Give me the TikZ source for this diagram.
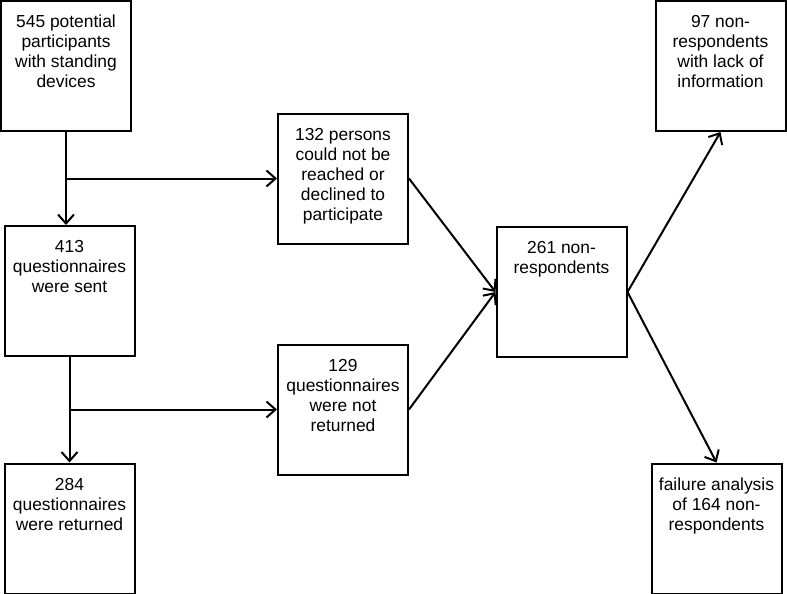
\documentclass[tikz,border=0pt]{standalone}
\usepackage{fontspec}
\setmainfont{Liberation Sans}
\usetikzlibrary{arrows.meta}
\usetikzlibrary{positioning}

\newcommand{\boxtext}[1]{\parbox[t][105pt][t]{124pt}{\centering\strut #1}}

\begin{document}
\begin{tikzpicture}[x=1pt, y=-1pt,
    stepbox/.style={draw, line width=2pt, rectangle, inner xsep=3pt, inner ysep=12.5pt,
        minimum width=130pt, minimum height=130pt,
        font=\fontsize{17.4pt}{20pt}\selectfont},
    flow/.style={line width=2pt, -{Straight Barb[length=9pt, width=16pt]}}]
    \useasboundingbox (0,0) rectangle (787,594);

    \node[stepbox] (pot) at (66,66) {\boxtext{545 potential\\participants\\with standing\\devices}};
    \node[stepbox] (sent) at (69.5,291) {\boxtext{413\\questionnaires\\were sent}};
    \node[stepbox] (ret) at (69.5,528.5) {\boxtext{284\\questionnaires\\were returned}};
    \node[stepbox] (unreach) at (343,178.5) {\boxtext{132 persons\\could not be\\reached or\\declined to\\participate}};
    \node[stepbox] (notret) at (343,409.5) {\boxtext{129\\questionnaires\\were not\\returned}};
    \node[stepbox] (nonresp) at (561.5,292) {\boxtext{261 non-\\respondents}};
    \node[stepbox] (lack) at (720.5,66) {\boxtext{97 non-\\respondents\\with lack of\\information}};
    \node[stepbox] (fail) at (716.5,528.5) {\boxtext{failure analysis\\of 164 non-\\respondents}};

    \coordinate (split1) at (pot.south |- unreach.west);
    \coordinate (split2) at (sent.south |- notret.west);

    \draw[flow] (pot.south) -- (pot.south |- sent.north);
    \draw[flow] (split1) -- (unreach.west);
    \draw[flow] (sent.south) -- (ret.north);
    \draw[flow] (split2) -- (notret.west);
    \draw[flow] (unreach.east) -- (nonresp.west);
    \draw[flow] (notret.east) -- (nonresp.west);
    \draw[flow] (nonresp.east) -- (lack.south);
    \draw[flow] (nonresp.east) -- (fail.north);
\end{tikzpicture}
\end{document}
